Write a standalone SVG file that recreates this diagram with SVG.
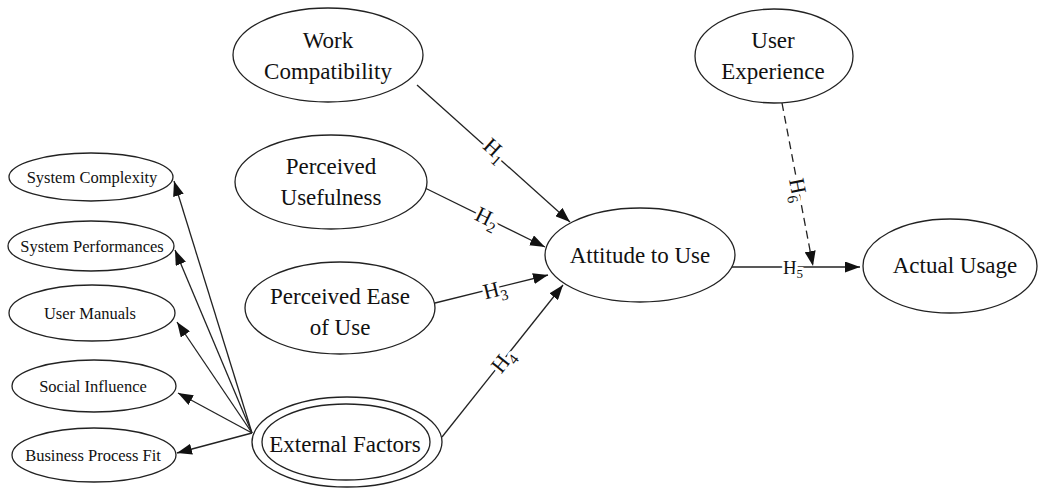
<svg xmlns="http://www.w3.org/2000/svg" width="1040" height="488" viewBox="0 0 1040 488" font-family="'Liberation Serif', 'Times New Roman', serif">
<defs>
<style>
.n ellipse{fill:#fff;stroke:#222;stroke-width:1.3}
text{fill:#111;text-anchor:middle}
.big{font-size:23px}
.sm{font-size:16.5px}
.c line{stroke:#222;stroke-width:1.3;marker-end:url(#ah)}
.c .d{stroke-dasharray:8 5}
.lb{font-size:22px;stroke:#fff;stroke-width:6;paint-order:stroke;stroke-linejoin:round}
.lb tspan{font-size:15px}
</style>
<marker id="ah" markerUnits="userSpaceOnUse" markerWidth="15" markerHeight="11" refX="15" refY="5.5" orient="auto">
<path d="M0,0 L15,5.5 L0,11 z" fill="#111"/>
</marker>
</defs>
<rect width="1040" height="488" fill="#fff"/>

<g id="connectors" class="c">
<line x1="417" y1="85" x2="570" y2="222"/>
<line x1="425" y1="188" x2="545" y2="247"/>
<line x1="435" y1="303" x2="548" y2="275"/>
<line x1="442" y1="437" x2="563" y2="285"/>
<line x1="732" y1="267" x2="860" y2="267"/>
<line class="d" x1="782" y1="103" x2="813" y2="266"/>
<line x1="252" y1="433" x2="174" y2="181"/>
<line x1="252" y1="433" x2="175" y2="250"/>
<line x1="252" y1="433" x2="177" y2="322"/>
<line x1="252" y1="433" x2="178" y2="393"/>
<line x1="252" y1="433" x2="177" y2="453"/>
<text class="lb" transform="translate(495,150) rotate(42)" y="7">H<tspan dy="5">1</tspan></text>
<text class="lb" transform="translate(487,218) rotate(26)" y="7">H<tspan dy="5">2</tspan></text>
<text class="lb" transform="translate(495,290) rotate(-14)" y="7">H<tspan dy="5">3</tspan></text>
<text class="lb" transform="translate(503,361) rotate(-51.5)" y="7">H<tspan dy="5">4</tspan></text>
<text class="lb" style="font-size:19px" x="793" y="274">H<tspan dy="4" style="font-size:13px">5</tspan></text>
<text class="lb" transform="translate(798,190) rotate(79)" y="7">H<tspan dy="5">6</tspan></text>
</g>

<g id="work-compatibility" class="n">
<ellipse cx="328" cy="55" rx="95" ry="47"/>
<text class="big" x="328" y="48">Work</text>
<text class="big" x="328" y="79">Compatibility</text>
</g>
<g id="perceived-usefulness" class="n">
<ellipse cx="331" cy="182" rx="96" ry="47"/>
<text class="big" x="331" y="174">Perceived</text>
<text class="big" x="331" y="205">Usefulness</text>
</g>
<g id="perceived-ease" class="n">
<ellipse cx="340" cy="308" rx="95" ry="46"/>
<text class="big" x="340" y="304">Perceived Ease</text>
<text class="big" x="340" y="335">of Use</text>
</g>
<g id="external-factors" class="n">
<ellipse cx="347" cy="442" rx="95" ry="45"/>
<ellipse cx="346" cy="442" rx="84" ry="38"/>
<text class="big" x="345" y="452">External Factors</text>
</g>
<g id="attitude" class="n">
<ellipse cx="640" cy="255" rx="95" ry="47"/>
<text class="big" x="640" y="263">Attitude to Use</text>
</g>
<g id="user-experience" class="n">
<ellipse cx="774" cy="56" rx="79" ry="47"/>
<text class="big" x="773" y="48">User</text>
<text class="big" x="773" y="79">Experience</text>
</g>
<g id="actual-usage" class="n">
<ellipse cx="950" cy="266" rx="87" ry="47"/>
<text class="big" x="955" y="273">Actual Usage</text>
</g>
<g id="system-complexity" class="n">
<ellipse cx="91" cy="177" rx="82" ry="24"/>
<text class="sm" x="92" y="183">System Complexity</text>
</g>
<g id="system-performances" class="n">
<ellipse cx="91" cy="246" rx="83" ry="25"/>
<text class="sm" x="92" y="252">System Performances</text>
</g>
<g id="user-manuals" class="n">
<ellipse cx="92" cy="313" rx="83" ry="28"/>
<text class="sm" x="90" y="319">User Manuals</text>
</g>
<g id="social-influence" class="n">
<ellipse cx="94" cy="386" rx="82" ry="26"/>
<text class="sm" x="93" y="392">Social Influence</text>
</g>
<g id="business-process-fit" class="n">
<ellipse cx="94" cy="455" rx="82" ry="27"/>
<text class="sm" x="93" y="461">Business Process Fit</text>
</g>
</svg>
